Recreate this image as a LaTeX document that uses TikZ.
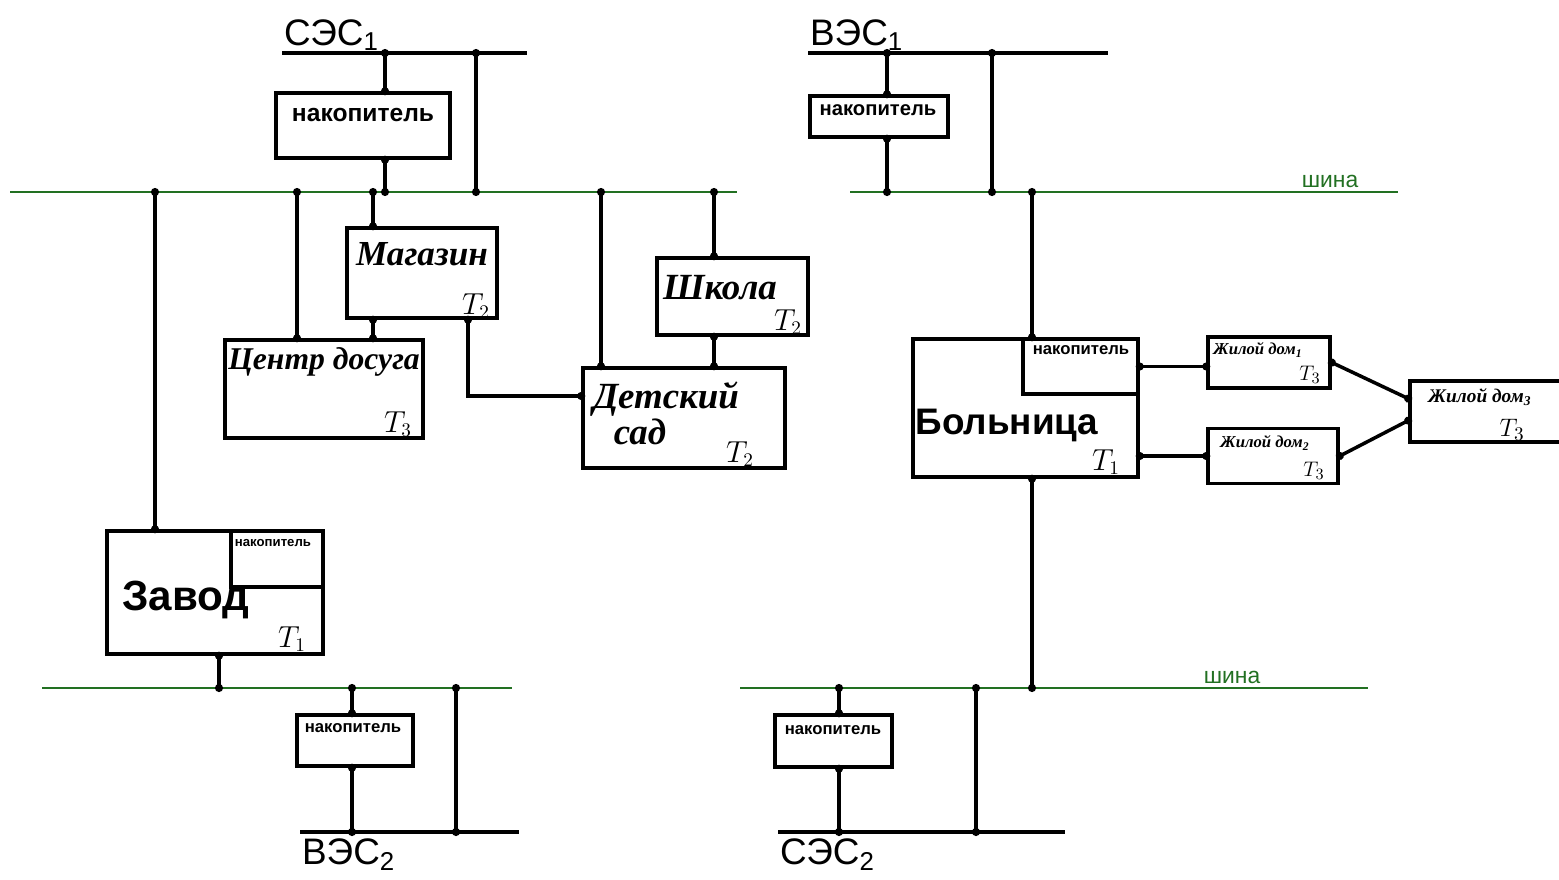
\documentclass[tikz,border=0pt]{standalone}
\usepackage{fontspec}
\setmainfont{Liberation Serif}
\newfontfamily\handsans{Liberation Sans}
\usetikzlibrary{calc,arrows.meta}
\definecolor{busgreen}{RGB}{34,112,34}

\tikzset{
  box/.style={draw, line width=2pt, inner sep=0pt},
  sz/.style 2 args={minimum width=#1*0.2mm, minimum height=#2*0.2mm},
  feeder/.style={line width=2pt},
  wire/.style={line width=2pt, {Circle[length=4.5pt]}-{Circle[length=4.5pt]},
    shorten <=-2.25pt, shorten >=-2.25pt},
  bus/.style={busgreen, line width=1.6pt},
  busname/.style={text=busgreen, font=\handsans\fontsize{13}{13}\selectfont, inner sep=1pt},
  station/.style={font=\handsans\fontsize{21}{22}\selectfont, inner sep=1pt},
  acctext/.style={font=\handsans\bfseries\fontsize{#1}{#1}\selectfont},
  cursive/.style={font=\bfseries\itshape\fontsize{#1}{#1}\selectfont},
  print/.style={font=\handsans\bfseries\fontsize{#1}{#1}\selectfont},
  tlabel/.style={font=\fontsize{#1}{#1}\selectfont},
  tlabel/.default=16,
}

\begin{document}
\begin{tikzpicture}[x=0.2mm, y=-0.2mm]
    \path[use as bounding box, clip] (0,0) rectangle (1559,880);

    % Buses
    \coordinate (sesAw) at (282,53);  \coordinate (sesAe) at (527,53);
    \coordinate (b1w) at (10,192);    \coordinate (b1e) at (737,192);
    \coordinate (b2w) at (42,688);    \coordinate (b2e) at (512,688);
    \coordinate (vesBw) at (300,832); \coordinate (vesBe) at (519,832);
    \coordinate (vesAw) at (808,53);  \coordinate (vesAe) at (1108,53);
    \coordinate (b3w) at (850,192);   \coordinate (b3e) at (1398,192);
    \coordinate (b4w) at (740,688);   \coordinate (b4e) at (1368,688);
    \coordinate (sesBw) at (778,832); \coordinate (sesBe) at (1065,832);

    \draw[feeder] (sesAw) -- (sesAe);
    \draw[feeder] (vesBw) -- (vesBe);
    \draw[feeder] (vesAw) -- (vesAe);
    \draw[feeder] (sesBw) -- (sesBe);
    \draw[bus] (b1w) -- (b1e);
    \draw[bus] (b2w) -- (b2e);
    \draw[bus] (b3w) -- (b3e);
    \draw[bus] (b4w) -- (b4e);

    % Station labels
    \node[station, anchor=south west] (sesA) at (sesAw) {СЭС\textsubscript{1}};
    \node[station, anchor=south west] (vesA) at (vesAw) {ВЭС\textsubscript{1}};
    \node[station, anchor=north west, yshift=-1mm] (vesB) at (vesBw) {ВЭС\textsubscript{2}};
    \node[station, anchor=north west, yshift=-1mm] (sesB) at (sesBw) {СЭС\textsubscript{2}};
    \node[busname, anchor=south] (shinaA) at (1330,190) {шина};
    \node[busname, anchor=south] (shinaB) at (1232,686) {шина};

    % Boxes
    \node[box, sz={174}{65}] (accA) at (363,125.5) {};
    \node[box, sz={150}{90}] (mag) at (422,273) {};
    \node[box, sz={198}{98}] (centr) at (324,389) {};
    \node[box, sz={151}{77}] (shkola) at (732.5,296.5) {};
    \node[box, sz={202}{100}] (sad) at (684,418) {};
    \node[box, sz={216}{123}] (zavod) at (215,592.5) {};
    \node[box, sz={92}{56}, anchor=north east] (zacc) at (zavod.north east) {};
    \node[box, sz={116}{51}] (accB) at (355,740.5) {};
    \node[box, sz={138}{41}] (accC) at (879,116.5) {};
    \node[box, sz={225}{138}] (bol) at (1025.5,408) {};
    \node[box, sz={115}{55}, anchor=north east] (bacc) at (bol.north east) {};
    \node[box, sz={122}{51}] (dom1) at (1269,362.5) {};
    \node[box, sz={130}{55}] (dom2) at (1273,456) {};
    \node[box, sz={165}{61}] (dom3) at (1492.5,411.5) {};
    \node[box, sz={117}{52}] (accD) at (833.5,741) {};

    % Box texts
    \node[acctext=14] (accAt) at (363,115) {накопитель};
    \node[acctext=11.5] (accCt) at (878,110) {накопитель};
    \node[acctext=9.5] (accBt) at (353,728) {накопитель};
    \node[acctext=9.5] (accDt) at (833,730) {накопитель};
    \node[acctext=7.5] (zacct) at (273,543) {накопитель};
    \node[acctext=9.5] (bacct) at (1081,350) {накопитель};

    \node[cursive=20] (magt) at (422,254) {Магазин};
    \node[cursive=18] (centrt) at (324,362) {Центр досуга};
    \node[cursive=21] (shkolat) at (720,288) {Школа};
    \node[cursive=21] (sadt) at (666,399) {Детский};
    \node[cursive=21] (sadt2) at (640,432) {сад};
    \node[print=24] (zavodt) at (186,600) {Завод};
    \node[print=21] (bolt) at (1007,425) {Больница};
    \node[cursive=9.5] (dom1t) at (1258,350) {Жилой дом\textsubscript{1}};
    \node[cursive=9.5] (dom2t) at (1265,443) {Жилой дом\textsubscript{2}};
    \node[cursive=11] (dom3t) at (1480,397) {Жилой дом\textsubscript{3}};

    \node[tlabel] (magT) at (476,306) {$T_2$};
    \node[tlabel] (centrT) at (398,424) {$T_3$};
    \node[tlabel] (shkolaT) at (788,322) {$T_2$};
    \node[tlabel] (sadT) at (740,454) {$T_2$};
    \node[tlabel] (zavodT) at (292,639) {$T_1$};
    \node[tlabel] (bolT) at (1106,462) {$T_1$};
    \node[tlabel=13] (dom1T) at (1310,375) {$T_3$};
    \node[tlabel=13] (dom2T) at (1314,471) {$T_3$};
    \node[tlabel=15] (dom3T) at (1512,430) {$T_3$};

    % Left part
    \coordinate (a1) at (385,53);
    \coordinate (a2) at (476,53);
    \draw[wire] (a1) -- (accA.north -| a1);
    \draw[wire] (accA.south -| a1) -- (a1 |- b1w);
    \draw[wire] (a2) -- (a2 |- b1w);
    \foreach \x/\b in {155/zavod, 297/centr, 373/mag, 601/sad, 714/shkola} {
        \coordinate (tap) at (\x,192);
        \draw[wire] (tap) -- (\b.north -| tap);
    }
    \coordinate (mc) at (373,330);
    \draw[wire] (mag.south -| mc) -- (centr.north -| mc);
    \coordinate (ms) at (468,396);
    \draw[wire] (mag.south -| ms) -- (ms) -- (sad.west |- ms);
    \coordinate (ss) at (714,350);
    \draw[wire] (shkola.south -| ss) -- (sad.north -| ss);
    \coordinate (zb) at (219,688);
    \draw[wire] (zavod.south -| zb) -- (zb);
    \coordinate (c1) at (352,688);
    \coordinate (c2) at (456,688);
    \draw[wire] (c1) -- (accB.north -| c1);
    \draw[wire] (accB.south -| c1) -- (c1 |- vesBw);
    \draw[wire] (c2) -- (c2 |- vesBw);

    % Right part
    \coordinate (r1) at (887,53);
    \coordinate (r2) at (992,53);
    \draw[wire] (r1) -- (accC.north -| r1);
    \draw[wire] (accC.south -| r1) -- (r1 |- b3w);
    \draw[wire] (r2) -- (r2 |- b3w);
    \coordinate (r3) at (1032,192);
    \draw[wire] (r3) -- (bol.north -| r3);
    \draw[wire] (bol.south -| r3) -- (r3 |- b4w);
    \draw[wire] (bacc.east) -- (dom1.west |- bacc.east);
    \draw[wire] (bol.east |- dom2.west) -- (dom2.west);
    \draw[wire] (dom1.east) -- ($(dom3.north west)!.3!(dom3.south west)$);
    \draw[wire] (dom2.east) -- ($(dom3.north west)!.64!(dom3.south west)$);
    \coordinate (r4) at (839,688);
    \coordinate (r5) at (976,688);
    \draw[wire] (r4) -- (accD.north -| r4);
    \draw[wire] (accD.south -| r4) -- (r4 |- sesBw);
    \draw[wire] (r5) -- (r5 |- sesBw);
\end{tikzpicture}
\end{document}
